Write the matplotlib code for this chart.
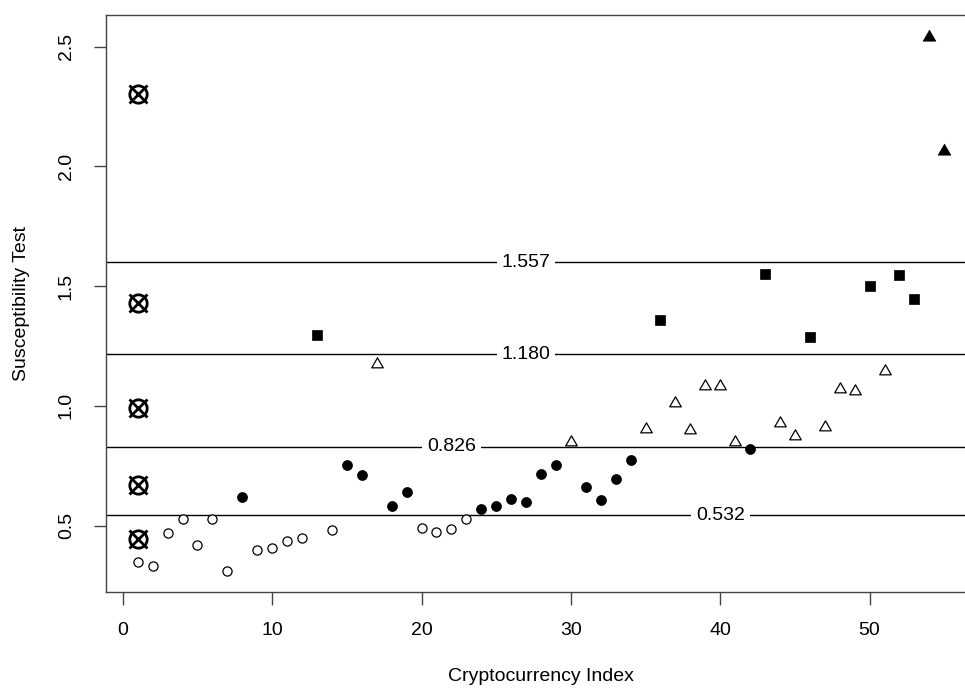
import numpy as np
import matplotlib
matplotlib.use("Agg")
import matplotlib.pyplot as plt
from matplotlib.path import Path

plt.rcParams['font.family'] = ['Liberation Sans', 'DejaVu Sans']

# ---------------- data ----------------
crypto_index = list(range(1, 56))
susceptibility = [0.347, 0.330, 0.470, 0.529, 0.420, 0.528, 0.310, 0.620, 0.397, 0.407,
                  0.435, 0.449, 1.295, 0.481, 0.753, 0.712, 1.175, 0.583, 0.639, 0.489,
                  0.475, 0.486, 0.528, 0.569, 0.580, 0.612, 0.599, 0.717, 0.751, 0.850,
                  0.660, 0.607, 0.696, 0.774, 0.905, 1.358, 1.012, 0.898, 1.084, 1.084,
                  0.850, 0.821, 1.551, 0.928, 0.873, 1.286, 0.912, 1.072, 1.064, 1.499,
                  1.144, 1.546, 1.447, 2.540, 2.065]
cluster = [1, 1, 1, 1, 1, 1, 1, 2, 1, 1, 1, 1, 4, 1, 2, 2, 3, 2, 2, 1,
           1, 1, 1, 2, 2, 2, 2, 2, 2, 3, 2, 2, 2, 2, 3, 4, 3, 3, 3, 3,
           3, 2, 4, 3, 3, 4, 3, 3, 3, 4, 3, 4, 4, 5, 5]
center_index = [1, 1, 1, 1, 1]
center_values = [2.304, 1.429, 0.992, 0.671, 0.442]
line_levels = [1.600, 1.215, 0.830, 0.543]
line_labels = ["1.557", "1.180", "0.826", "0.532"]
label_index = [27, 27, 22, 40]
x_ticks = [0, 10, 20, 30, 40, 50]
y_ticks = [0.5, 1.0, 1.5, 2.0, 2.5]

# ---------------- figure ----------------
fig = plt.figure(figsize=(9.65, 6.89), dpi=100)
ax = fig.add_axes([105.5 / 965, 97.3 / 689, 871 / 965, (674 - 97.3) / 689])

tri_path = Path([(-1, -0.577), (1, -0.577), (0, 1.155), (-1, -0.577)],
                [Path.MOVETO, Path.LINETO, Path.LINETO, Path.CLOSEPOLY])

styles = {
    1: dict(marker='o', ms=6.6, mfc='white', mec='black', mew=0.9),
    2: dict(marker='o', ms=7.2, mfc='black', mec='black', mew=0.5),
    3: dict(marker=tri_path, ms=9.6, mfc='white', mec='black', mew=0.9),
    4: dict(marker='s', ms=6.8, mfc='black', mec='black', mew=0.5),
    5: dict(marker=tri_path, ms=10.5, mfc='black', mec='black', mew=0.5),
}

x_arr = np.array(crypto_index)
y_arr = np.array(susceptibility)
c_arr = np.array(cluster)
for k, st in styles.items():
    m = c_arr == k
    ax.plot(x_arr[m], y_arr[m], linestyle='none', zorder=4, **st)

# cluster centres (circle with cross)
ax.plot(center_index, center_values, linestyle='none', marker='o', ms=12.5,
        mfc='none', mec='black', mew=2.0, zorder=5)
ax.plot(center_index, center_values, linestyle='none', marker='x', ms=13.0,
        mec='black', mew=2.0, zorder=5)

# horizontal threshold lines with labels
for lvl, lab, xi in zip(line_levels, line_labels, label_index):
    ax.axhline(lvl, color='black', lw=1.0, zorder=2)
    ax.text(xi, lvl, lab, ha='center', va='center', fontsize=14, color='black',
            zorder=3, bbox=dict(facecolor='white', edgecolor='none', pad=3.5))

ax.set_xlim(-1.16, 57.16)
ax.set_ylim(0.224, 2.632)
ax.set_xticks(x_ticks)
ax.set_yticks(y_ticks)
ax.set_xticklabels([str(t) for t in x_ticks])
ax.set_yticklabels([f"{t:.1f}" for t in y_ticks], rotation=90, va='center')
ax.tick_params(axis='both', length=9, width=1.0, color='#444444',
               labelsize=14, pad=13)

for s in ax.spines.values():
    s.set_color('#444444')
    s.set_linewidth(1.0)

ax.set_xlabel("Cryptocurrency Index", fontsize=14, labelpad=21)
ax.set_ylabel("Susceptibility Test", fontsize=14, labelpad=20)

fig.savefig("out.png", dpi=100)
